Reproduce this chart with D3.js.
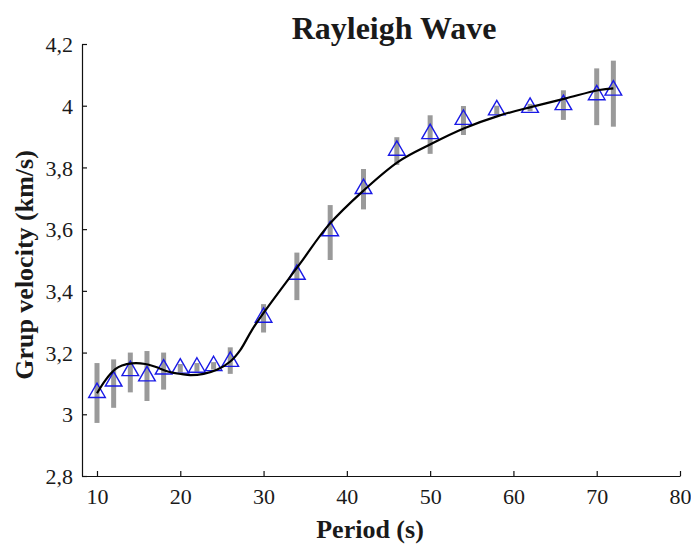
<!DOCTYPE html>
<meta charset="utf-8">
<style>
  body { margin: 0; background: #fff; }
  text { font-family: "Liberation Serif", "Times New Roman", serif; }
</style>
<svg width="691" height="547"></svg>
<script src="https://cdn.jsdelivr.net/npm/d3@7"></script>
<script>

// measured periods (s), group velocity (km/s) and error half-widths
const periods  = [10, 12, 14, 16, 18, 20, 22, 24, 26, 30, 34, 38, 42, 46, 50, 54, 58, 62, 66, 70, 72]
const velocity = [3.07, 3.107, 3.141, 3.124, 3.146, 3.149, 3.152, 3.157, 3.171, 3.314, 3.453, 3.594,
                  3.731, 3.855, 3.909, 3.955, 3.986, 3.994, 4.003, 4.035, 4.05]
const errLow   = [2.972, 3.021, 3.071, 3.043, 3.08, 3.135, 3.138, 3.145, 3.131, 3.265, 3.37, 3.50,
                  3.664, 3.808, 3.844, 3.905, 3.972, 3.982, 3.954, 3.937, 3.932]
const errHigh  = [3.166, 3.178, 3.20, 3.205, 3.20, 3.163, 3.166, 3.169, 3.217, 3.357, 3.524, 3.678,
                  3.795, 3.898, 3.969, 3.999, 4.0, 4.006, 4.05, 4.121, 4.146]

// fitted dispersion curve
const fitPeriod   = [10, 11, 12.2, 13, 14.2, 15.8, 17, 18.6, 20.2, 21.2, 22.8, 24.4, 26, 27.2, 28.6,
                     30.2, 34.4, 37.8, 42, 46.2, 50.1, 54.1, 58.3, 62.3, 66.3, 70.3, 72]
const fitVelocity = [3.068, 3.11, 3.146, 3.158, 3.165, 3.163, 3.154, 3.138, 3.13, 3.127, 3.131, 3.144,
                     3.171, 3.208, 3.273, 3.336, 3.489, 3.613, 3.725, 3.819, 3.876, 3.927, 3.968,
                     3.997, 4.024, 4.051, 4.056]

const xTicks = [10, 20, 30, 40, 50, 60, 70, 80]
const yTicks = [2.8, 3, 3.2, 3.4, 3.6, 3.8, 4, 4.2]

const plotLeft = 82, plotRight = 680, plotTop = 44, plotBottom = 476

const svg = d3.select("svg")

const x = d3.scaleLinear().domain([8.2, 80]).range([plotLeft, plotRight])
const y = d3.scaleLinear().domain([2.8, 4.2]).range([plotBottom, plotTop])
const fmt = d => String(d).replace(".", ",")

// axes (ticks point inward)
const xAxis = svg.append("g")
    .attr("transform", `translate(0,${plotBottom})`)
    .call(d3.axisBottom(x).tickValues(xTicks).tickSizeInner(-5).tickSizeOuter(0).tickPadding(12))
const yAxis = svg.append("g")
    .attr("transform", `translate(${plotLeft},0)`)
    .call(d3.axisLeft(y).tickValues(yTicks).tickFormat(fmt).tickSizeInner(-5).tickSizeOuter(0).tickPadding(9))

for (const ax of [xAxis, yAxis]) {
  ax.attr("font-family", "Liberation Serif").attr("font-size", 22)
  ax.select(".domain").attr("stroke", "#111").attr("stroke-width", 1.2)
  ax.selectAll(".tick line").attr("stroke", "#111").attr("stroke-width", 1.2)
  ax.selectAll(".tick text").attr("fill", "#1a1a1a")
}
yAxis.selectAll(".tick text").attr("dy", "0.35em")

// error bars
svg.append("g")
  .selectAll("line")
  .data(periods)
  .join("line")
    .attr("x1", d => x(d))
    .attr("x2", d => x(d))
    .attr("y1", (d, i) => y(errLow[i]))
    .attr("y2", (d, i) => y(errHigh[i]))
    .attr("stroke", "#9a9a9a")
    .attr("stroke-width", 5)

// triangles
const tri = d3.symbol().type(d3.symbolTriangle).size(120)
svg.append("g")
  .selectAll("path")
  .data(periods)
  .join("path")
    .attr("d", tri)
    .attr("transform", (d, i) => `translate(${x(d)},${y(velocity[i])})`)
    .attr("fill", "none")
    .attr("stroke", "#1a1ae6")
    .attr("stroke-width", 1.4)

// fitted curve
const line = d3.line()
    .x(d => x(d[0]))
    .y(d => y(d[1]))
    .curve(d3.curveCatmullRom)
svg.append("path")
    .datum(d3.zip(fitPeriod, fitVelocity))
    .attr("fill", "none")
    .attr("stroke", "#000")
    .attr("stroke-width", 2.2)
    .attr("d", line)

// title and labels
svg.append("text")
    .attr("x", 394).attr("y", 39)
    .attr("text-anchor", "middle")
    .attr("font-weight", "bold")
    .attr("font-size", 32)
    .attr("fill", "#1a1a1a")
    .text("Rayleigh Wave")

svg.append("text")
    .attr("x", 370).attr("y", 538)
    .attr("text-anchor", "middle")
    .attr("font-weight", "bold")
    .attr("font-size", 26)
    .attr("fill", "#1a1a1a")
    .text("Period (s)")

svg.append("text")
    .attr("transform", "translate(33,265) rotate(-90)")
    .attr("text-anchor", "middle")
    .attr("font-weight", "bold")
    .attr("font-size", 26)
    .attr("fill", "#1a1a1a")
    .text("Grup velocity (km/s)")

</script>
